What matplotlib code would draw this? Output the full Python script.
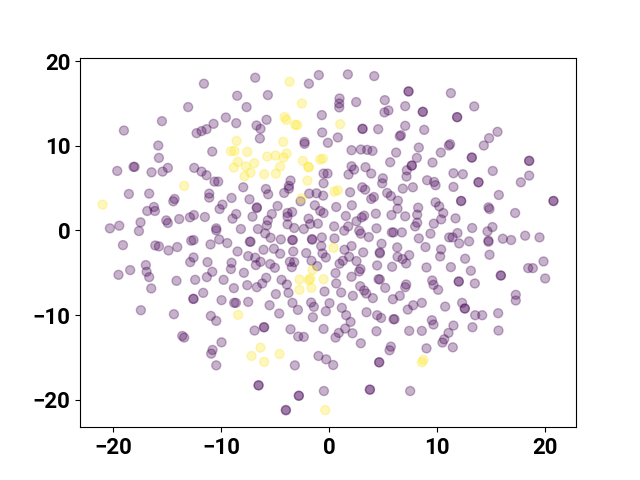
import numpy as np
import matplotlib
matplotlib.use('Agg')
import matplotlib.pyplot as plt

plt.rcParams['font.family'] = ['Roboto', 'DejaVu Sans']

# embedding points, (x, y)
class_0 = [
    (-11.6,17.32),(-6.85,18.03),(-0.96,18.34),(-1.88,17.32),(-8.52,15.9),(-5.68,15.98),(-13.06,14.56),(-7.65,14.56),
    (-9.57,13.33),(-15.49,12.9),(-10.71,12.58),(-8.61,12.66),(-5.8,13.06),(-0.68,13.61),(-19.01,11.79),(-12.28,11.48),
    (-11.82,11.72),(-11.36,11.95),(-6.73,12.39),(-6.36,11.99),(-0.65,11.56),(-6.42,10.85),(-2.28,10.45),(-2.28,10.22),
    (-0.12,10.34),(-15.83,10.02),(-10.83,9.31),(-15.77,8.56),(-18.12,7.5),(-18.02,7.5),(-19.63,7.02),(-16.45,6.86),
    (-15.43,6.94),(-14.94,7.38),(-12.5,7.38),(-11.82,6.94),(-11.36,6.51),(-10.62,5.76),(-10.28,5.76),(-0.52,6.71),
    (-0.15,6.71),(-0.52,5.56),(-3.58,5.88),(-3.73,5.25),(-3.73,4.93),(-7.96,5.09),(-5.86,4.89),(-5.65,4.26),
    (-4.17,4.42),(-18.55,4.3),(-16.67,4.34),(-11.11,4.34),(-11.11,3.87),(-14.32,3.71),(-14.44,3.43),(-9.04,3.83),
    (-7.38,3.67),(-1.85,4.34),(-1.17,4.38),(-0.56,4.1),(-2.65,3.43),(-1.33,2.96),(-9.88,3.04),(-10.15,2.52),
    (-16.23,2.76),(-16.14,2.29),(-16.85,2.29),(-6.7,2.72),(-6.7,2.64),(-4.78,2.88),(-5.31,1.93),(-3.43,2.17),
    (-3.86,2.05),(-3.86,1.62),(-0.83,2.29),(-0.52,2.05),(-8.61,1.93),(-8.95,1.38),(-7.1,1.62),(-12.53,1.81),
    (-12.9,1.54),(-11.51,1.58),(-13.89,1.34),(-15.09,1.18),(-14.94,0.87),(-17.47,0.95),(-19.44,0.55),(-20.31,0.24),
    (-17.62,-0.08),(-10.46,0.24),(-10.46,0.0),(-8.18,0.16),(-6.6,0.16),(-5.68,1.18),(-5.77,0.59),(-3.86,0.71),
    (-3.24,0.28),(-2.35,0.16),(-1.91,1.38),(-1.76,0.75),(-1.05,0.79),(-5.93,-0.36),
    (-19.1,-1.74),(-16.11,-1.78),(-15.77,-1.89),(-14.88,-2.37),(-14.07,-1.97),(-12.78,-1.22),(-12.56,-1.14),(-10.99,-1.66),
    (-10.19,-1.07),(-9.44,-1.5),(-7.35,-1.34),(-7.28,-1.34),(-5.43,-0.87),(-4.48,-1.07),(-3.43,-1.14),(-3.36,-1.14),
    (-1.6,-1.03),(-1.57,-1.1),(-0.68,-0.83),(-0.74,-1.85),(-8.49,-2.49),(-6.08,-2.29),(-5.12,-2.17),(-4.54,-2.76),
    (-3.33,-2.49),(-2.13,-2.68),(-0.62,-2.72),(-0.31,-3.2),(-12.56,-3.2),(-12.87,-3.75),(-11.27,-3.75),(-9.04,-3.83),
    (-9.1,-4.57),(-7.5,-3.04),(-6.85,-3.23),(-6.36,-3.71),(-6.79,-4.1),(-5.46,-3.98),(-5.03,-4.42),(-3.64,-3.71),
    (-3.24,-3.75),(-3.46,-4.34),(-1.64,-3.59),(-1.11,-4.22),(-16.98,-4.1),(-18.43,-4.69),(-16.91,-4.89),(-19.51,-5.25),
    (-16.67,-5.52),(-16.48,-6.86),(-14.14,-5.96),(-12.41,-5.84),(-10.83,-4.89),(-11.33,-5.52),(-9.78,-5.84),(-7.9,-5.01),
    (-5.83,-5.6),(-6.2,-6.27),(-7.59,-6.47),(-6.7,-6.71),(-8.83,-6.82),(-4.41,-5.84),(-3.92,-6.39),(-3.77,-7.38),
    (-4.94,-7.53),(-0.43,-7.22),(-11.67,-7.38),(-12.56,-8.09),(-12.59,-8.09),(-9.97,-8.24),(-8.8,-8.56),(-8.64,-8.56),
    (-7.5,-8.44),(-5.52,-8.84),(-3.4,-8.56),(-1.67,-8.52),(-1.42,-9.03),(-2.9,-9.39),(-4.63,-9.82),(-1.51,-10.26),
    (-0.31,-9.55),(0.03,-8.6),(-17.44,-9.43),(-14.38,-9.9),(-10.96,-10.1),(-10.46,-10.69),(-0.52,-11.64),(-3.58,-11.68),
    (-2.87,-12.54),(-2.35,-12.58),(-6.91,-11.83),(-6.05,-11.44),(-6.02,-11.44),(-13.61,-12.47),(-13.43,-12.66),(-9.97,-13.22),
    (-10.8,-14.12),(-10.93,-14.56),(-10.46,-15.94),(-0.99,-14.83),(-0.28,-15.23),(-3.18,-15.94),(-6.54,-18.3),(-6.54,-18.3),
    (-2.81,-19.53),(-2.81,-19.53),(-0.49,-18.97),(-4.01,-21.26),(-4.01,-21.2),
    (1.73,18.42),(4.17,18.22),(7.35,16.41),(7.35,16.41),(11.27,16.21),(0.96,15.58),(0.93,14.99),(0.93,14.52),
    (2.5,15.15),(5.15,15.38),(7.04,14.67),(13.43,14.64),(5.12,13.93),(5.49,14.16),(8.67,14.0),(8.67,14.0),
    (11.85,13.37),(11.85,13.37),(3.09,11.99),(3.09,11.99),(4.54,11.95),(7.04,12.35),(8.8,11.87),(15.59,11.64),
    (6.64,11.24),(6.54,11.12),(14.81,10.89),(0.8,10.97),(14.32,10.02),(8.3,9.78),(11.2,10.18),(11.08,10.02),
    (2.07,9.47),(2.93,9.55),(3.52,9.51),(4.01,9.39),(6.2,9.19),(10.34,9.19),(13.21,8.6),(13.21,8.6),
    (8.12,8.56),(5.65,8.05),(9.57,8.01),(18.52,8.21),(18.52,8.21),(7.65,7.65),(7.65,7.65),(2.07,7.57),
    (2.31,7.18),(3.36,7.46),(7.19,7.1),(3.89,6.71),(1.79,6.59),(11.51,6.75),(12.38,6.63),(15.15,7.02),
    (18.52,6.47),(7.16,6.35),(4.97,6.15),(4.91,5.56),(9.07,5.92),(9.72,5.72),(9.85,5.33),(13.83,5.68),
    (13.83,5.68),(17.75,5.68),(11.51,5.13),(7.75,5.09),(6.82,4.93),(3.06,5.09),(3.33,4.81),(1.94,4.5),
    (5.37,4.42),(5.71,4.06),(4.14,3.94),(3.89,3.71),(6.36,3.51),(15.71,4.18),(20.77,3.47),(20.77,3.47),
    (12.22,3.47),(12.22,3.47),(9.85,3.31),(10.19,2.84),(14.75,2.72),(14.85,2.52),(0.65,2.76),(2.1,2.96),
    (6.33,2.56),(8.24,2.68),(8.15,1.85),(4.32,1.97),(5.77,1.81),(7.04,1.66),(10.56,2.05),(17.22,2.05),
    (1.54,1.7),(3.24,1.74),(3.02,1.54),(2.53,1.07),(10.37,1.3),(11.7,1.42),(9.69,0.79),(8.15,0.91),
    (7.96,0.47),(0.46,0.47),(1.76,0.47),(1.39,-0.04),(4.38,0.24),(2.78,-0.04),(2.93,-0.39),(5.8,-0.24),
    (5.96,-0.24),(6.73,-0.24),(9.38,-0.39),(13.24,0.28),(15.12,0.39),(14.66,-0.12),
    (0.49,-0.95),(3.67,-0.79),(8.3,-0.95),(11.11,-0.83),(11.42,-0.83),(11.88,-0.32),(12.04,-1.54),(12.96,-1.3),
    (14.75,-1.22),(14.75,-1.34),(16.08,-0.99),(16.85,-1.14),(18.15,-0.63),(19.48,-0.83),(2.07,-1.85),(1.42,-2.29),
    (4.85,-1.58),(3.15,-2.6),(4.69,-2.6),(4.69,-2.72),(6.3,-2.01),(8.92,-1.97),(10.37,-2.25),(10.28,-3.08),
    (7.41,-2.92),(6.33,-3.12),(6.79,-3.39),(7.13,-3.91),(12.59,-3.35),(14.85,-2.88),(1.85,-3.12),(1.27,-3.59),
    (0.96,-3.94),(2.53,-3.63),(4.44,-4.14),(5.83,-4.3),(9.01,-4.38),(11.27,-4.34),(19.85,-3.67),(18.43,-4.46),
    (18.86,-4.46),(13.12,-4.77),(2.9,-4.57),(2.78,-4.85),(0.59,-5.05),(2.07,-5.48),(15.9,-5.33),(15.9,-5.33),
    (20.0,-5.68),(4.57,-5.76),(4.69,-5.8),(0.65,-6.27),(9.54,-5.92),(9.66,-6.43),(10.09,-7.02),(12.0,-6.04),
    (12.0,-6.04),(13.49,-6.27),(7.13,-6.39),(7.04,-6.71),(5.19,-6.79),(2.87,-6.59),(3.24,-7.1),(3.43,-7.46),
    (1.11,-7.34),(2.19,-7.73),(4.04,-8.0),(6.54,-7.73),(5.9,-8.13),(17.28,-7.61),(17.28,-8.28),(8.58,-8.56),
    (7.78,-8.84),(7.28,-9.35),(10.74,-9.0),(12.31,-8.56),(12.56,-9.23),(12.56,-9.23),(1.17,-9.15),(3.46,-9.67),
    (1.57,-10.02),(4.44,-10.02),(4.81,-10.34),(5.96,-10.49),(6.05,-10.49),(13.52,-10.02),(14.17,-10.02),(15.65,-9.78),
    (9.51,-10.61),(9.66,-11.12),(1.98,-10.81),(1.48,-11.6),(11.51,-11.24),(13.27,-11.44),(15.68,-11.83),(4.38,-11.91),
    (7.41,-11.87),(8.58,-11.87),(11.05,-12.11),(0.89,-12.11),(2.16,-12.15),(0.59,-12.66),(10.65,-12.86),(10.49,-13.25),
    (2.93,-13.33),(5.71,-13.73),(5.59,-14.16),(9.01,-13.93),(11.45,-13.81),(4.63,-15.58),(4.63,-15.58),(0.37,-15.9),
    (3.77,-18.81),(3.77,-18.81),(7.5,-18.97),
]

class_1 = [
    (-3.67,17.55),(-2.53,14.99),(-4.14,13.37),(-3.95,13.06),(-3.15,12.47),(-2.96,12.43),(-8.58,10.57),(-4.26,10.45),
    (-9.1,9.35),(-8.77,9.39),(-7.59,9.27),(-5.74,8.72),(-4.97,8.84),(-4.23,8.6),(-3.95,9.07),(-0.83,8.36),
    (-0.59,8.48),(-8.46,8.09),(-8.83,7.42),(-7.72,7.53),(-6.94,7.93),(-7.28,6.82),(-7.84,6.39),(-6.02,6.63),
    (-4.94,6.71),(-4.54,7.53),(-2.44,8.21),(-1.94,7.5),(-1.88,7.46),(-2.01,5.88),(-13.43,5.25),(-20.99,3.04),
    (-2.56,3.79),(1.02,12.54),(0.49,4.58),(0.8,4.73),(0.4,-2.05),
    (-1.54,-4.65),(-2.75,-5.8),(-1.76,-5.68),(-1.88,-5.88),(-0.52,-5.76),(-2.75,-7.02),(-1.64,-6.79),(-8.43,-9.98),
    (-6.36,-13.85),(-7.19,-14.83),(-4.6,-14.6),(-6.02,-15.54),(-0.37,-21.22),(8.73,-15.3),(8.58,-15.58),
]

xy = np.array(class_0 + class_1)
labels = [0] * len(class_0) + [1] * len(class_1)

plt.figure(figsize=(6.4, 4.8))
plt.scatter(xy[:, 0], xy[:, 1], c=labels, alpha=0.3, s=42)
plt.xticks([-20, -10, 0, 10, 20])
plt.yticks([-20, -10, 0, 10, 20])
plt.tick_params(labelsize=16)
for t in plt.gca().get_xticklabels() + plt.gca().get_yticklabels():
    t.set_fontweight('bold')
plt.savefig('out.png', dpi=100)
